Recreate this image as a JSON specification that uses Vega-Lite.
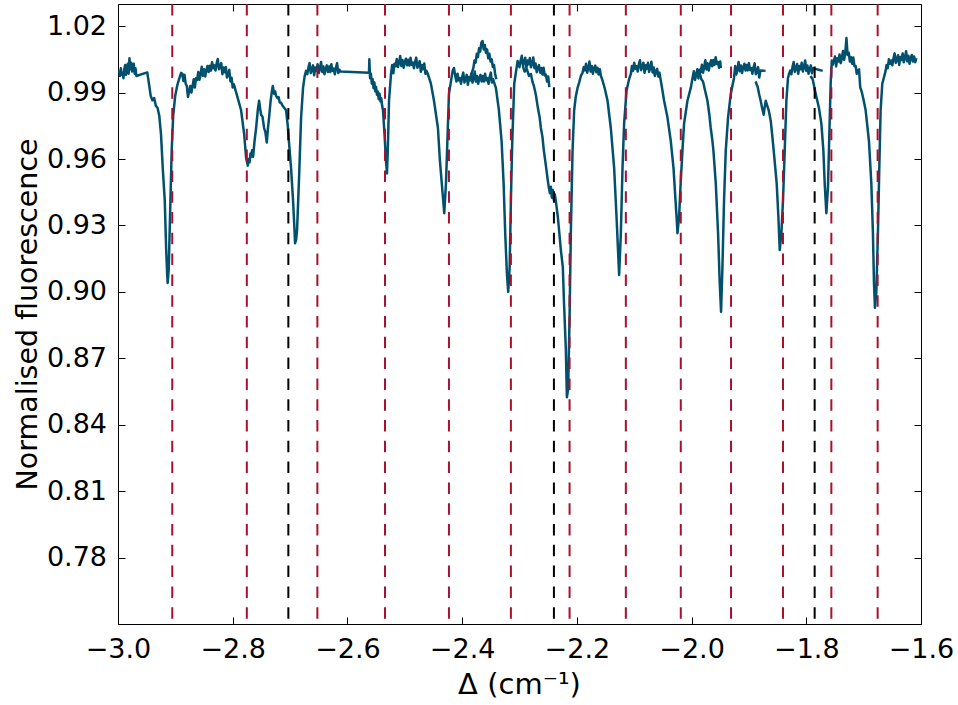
{
  "$schema": "https://vega.github.io/schema/vega-lite/v6.json",
  "width": 803,
  "height": 620,
  "autosize": {"type": "none"},
  "padding": {"left": 118, "top": 4, "right": 37, "bottom": 81},
  "background": "white",
  "config": {"view": {"stroke": "black", "strokeWidth": 1}, "font": "DejaVu Sans", "axis": {"grid": false}},
  "datasets": {
    "red": [{"x": -2.9054}, {"x": -2.7754}, {"x": -2.6524}, {"x": -2.5345}, {"x": -2.423}, {"x": -2.315}, {"x": -2.2127}, {"x": -2.1146}, {"x": -2.0188}, {"x": -1.9312}, {"x": -1.8406}, {"x": -1.7563}, {"x": -1.6756}],
    "black": [{"x": -2.703}, {"x": -2.24}, {"x": -1.7854}],
    "frame": [{"x": -3, "y": 0.75}, {"x": -1.6, "y": 1.03}],
    "spec": [
      {"x": -2.998, "y": 1.0, "s": "a"}, {"x": -2.9965, "y": 0.9975, "s": "a"}, {"x": -2.995, "y": 1.001, "s": "a"}, {"x": -2.9935, "y": 0.998, "s": "a"}, {"x": -2.992, "y": 0.999, "s": "a"}, {"x": -2.9905, "y": 0.9965, "s": "a"}, {"x": -2.989, "y": 1.0005, "s": "a"}, {"x": -2.9875, "y": 1.0025, "s": "a"}, {"x": -2.986, "y": 0.998, "s": "a"}, {"x": -2.9845, "y": 1.0, "s": "a"}, {"x": -2.983, "y": 1.003, "s": "a"}, {"x": -2.9815, "y": 0.9985, "s": "a"}, {"x": -2.98, "y": 1.0055, "s": "a"}, {"x": -2.9785, "y": 1.0005, "s": "a"}, {"x": -2.977, "y": 1.0035, "s": "a"}, {"x": -2.9755, "y": 0.9995, "s": "a"}, {"x": -2.974, "y": 1.0005, "s": "a"}, {"x": -2.9725, "y": 1.003, "s": "a"}, {"x": -2.971, "y": 0.9985, "s": "a"}, {"x": -2.9695, "y": 1.001, "s": "a"}, {"x": -2.968, "y": 0.9975, "s": "a"},
      {"x": -2.949, "y": 0.9991, "s": "a"}, {"x": -2.946, "y": 0.994, "s": "a"}, {"x": -2.943, "y": 0.9885, "s": "a"}, {"x": -2.94, "y": 0.9865, "s": "a"}, {"x": -2.937, "y": 0.9875, "s": "a"}, {"x": -2.934, "y": 0.984, "s": "a"}, {"x": -2.931, "y": 0.983, "s": "a"}, {"x": -2.928, "y": 0.9795, "s": "a"}, {"x": -2.925, "y": 0.971, "s": "a"}, {"x": -2.922, "y": 0.956, "s": "a"}, {"x": -2.9185, "y": 0.9413, "s": "a"}, {"x": -2.916, "y": 0.919, "s": "a"}, {"x": -2.9142, "y": 0.9076, "s": "a"}, {"x": -2.9134, "y": 0.904, "s": "a"}, {"x": -2.9116, "y": 0.91, "s": "a"}, {"x": -2.909, "y": 0.937, "s": "a"}, {"x": -2.9064, "y": 0.9638, "s": "a"}, {"x": -2.9038, "y": 0.9795, "s": "a"}, {"x": -2.9003, "y": 0.9885, "s": "a"}, {"x": -2.8969, "y": 0.993, "s": "a"}, {"x": -2.8934, "y": 0.9962, "s": "a"}, {"x": -2.8899, "y": 0.9989, "s": "a"},
      {"x": -2.888, "y": 0.9985, "s": "a"}, {"x": -2.886, "y": 0.9952, "s": "a"}, {"x": -2.884, "y": 0.998, "s": "a"}, {"x": -2.882, "y": 0.994, "s": "a"}, {"x": -2.88, "y": 0.993, "s": "a"}, {"x": -2.878, "y": 0.988, "s": "a"}, {"x": -2.876, "y": 0.9905, "s": "a"}, {"x": -2.874, "y": 0.993, "s": "a"}, {"x": -2.872, "y": 0.99, "s": "a"}, {"x": -2.87, "y": 0.993, "s": "a"}, {"x": -2.868, "y": 0.996, "s": "a"}, {"x": -2.866, "y": 0.9923, "s": "a"}, {"x": -2.864, "y": 0.9965, "s": "a"}, {"x": -2.862, "y": 0.9957, "s": "a"}, {"x": -2.86, "y": 0.9993, "s": "a"}, {"x": -2.858, "y": 0.9958, "s": "a"}, {"x": -2.856, "y": 0.9983, "s": "a"}, {"x": -2.854, "y": 1.0017, "s": "a"}, {"x": -2.852, "y": 0.9976, "s": "a"}, {"x": -2.85, "y": 1.0005, "s": "a"}, {"x": -2.848, "y": 0.9973, "s": "a"}, {"x": -2.846, "y": 1.0001, "s": "a"}, {"x": -2.844, "y": 1.002, "s": "a"}, {"x": -2.842, "y": 0.9993, "s": "a"}, {"x": -2.84, "y": 1.0021, "s": "a"}, {"x": -2.838, "y": 0.9999, "s": "a"}, {"x": -2.836, "y": 1.0037, "s": "a"}, {"x": -2.834, "y": 1.001, "s": "a"}, {"x": -2.832, "y": 1.0023, "s": "a"}, {"x": -2.83, "y": 1.0, "s": "a"}, {"x": -2.828, "y": 1.0032, "s": "a"}, {"x": -2.826, "y": 1.0052, "s": "a"}, {"x": -2.824, "y": 1.0005, "s": "a"}, {"x": -2.822, "y": 1.0017, "s": "a"}, {"x": -2.82, "y": 1.0033, "s": "a"}, {"x": -2.818, "y": 0.9983, "s": "a"}, {"x": -2.816, "y": 1.0013, "s": "a"}, {"x": -2.814, "y": 0.9992, "s": "a"}, {"x": -2.812, "y": 1.0015, "s": "a"}, {"x": -2.81, "y": 0.9968, "s": "a"}, {"x": -2.808, "y": 0.9981, "s": "a"}, {"x": -2.806, "y": 1.0003, "s": "a"}, {"x": -2.804, "y": 0.995, "s": "a"}, {"x": -2.802, "y": 0.9967, "s": "a"}, {"x": -2.8, "y": 0.9923, "s": "a"}, {"x": -2.798, "y": 0.9937, "s": "a"},
      {"x": -2.7923, "y": 0.9885, "s": "a"}, {"x": -2.7854, "y": 0.982, "s": "a"}, {"x": -2.7801, "y": 0.9714, "s": "a"}, {"x": -2.7767, "y": 0.9607, "s": "a"}, {"x": -2.7737, "y": 0.957, "s": "a"}, {"x": -2.772, "y": 0.96, "s": "a"}, {"x": -2.7706, "y": 0.9585, "s": "a"}, {"x": -2.769, "y": 0.9625, "s": "a"}, {"x": -2.7679, "y": 0.961, "s": "a"}, {"x": -2.7662, "y": 0.964, "s": "a"}, {"x": -2.7645, "y": 0.961, "s": "a"}, {"x": -2.762, "y": 0.968, "s": "a"}, {"x": -2.7592, "y": 0.974, "s": "a"}, {"x": -2.7563, "y": 0.982, "s": "a"}, {"x": -2.754, "y": 0.9863, "s": "a"}, {"x": -2.752, "y": 0.9825, "s": "a"}, {"x": -2.7505, "y": 0.98, "s": "a"}, {"x": -2.748, "y": 0.979, "s": "a"}, {"x": -2.7453, "y": 0.974, "s": "a"}, {"x": -2.743, "y": 0.972, "s": "a"}, {"x": -2.7406, "y": 0.9674, "s": "a"}, {"x": -2.7385, "y": 0.974, "s": "a"}, {"x": -2.7366, "y": 0.9787, "s": "a"}, {"x": -2.734, "y": 0.986, "s": "a"}, {"x": -2.732, "y": 0.99, "s": "a"}, {"x": -2.7301, "y": 0.993, "s": "a"}, {"x": -2.728, "y": 0.9895, "s": "a"}, {"x": -2.726, "y": 0.9905, "s": "a"}, {"x": -2.7244, "y": 0.9885, "s": "a"}, {"x": -2.722, "y": 0.9875, "s": "a"}, {"x": -2.72, "y": 0.988, "s": "a"}, {"x": -2.718, "y": 0.9855, "s": "a"}, {"x": -2.7157, "y": 0.9854, "s": "a"}, {"x": -2.713, "y": 0.984, "s": "a"}, {"x": -2.71, "y": 0.983, "s": "a"}, {"x": -2.707, "y": 0.982, "s": "a"}, {"x": -2.704, "y": 0.975, "s": "a"}, {"x": -2.7017, "y": 0.967, "s": "a"}, {"x": -2.6983, "y": 0.956, "s": "a"}, {"x": -2.6948, "y": 0.9413, "s": "a"}, {"x": -2.6925, "y": 0.9292, "s": "a"}, {"x": -2.6913, "y": 0.922, "s": "a"}, {"x": -2.6895, "y": 0.9235, "s": "a"}, {"x": -2.6878, "y": 0.9279, "s": "a"}, {"x": -2.6843, "y": 0.9517, "s": "a"}, {"x": -2.6808, "y": 0.9787, "s": "a"}, {"x": -2.6774, "y": 0.9921, "s": "a"}, {"x": -2.6745, "y": 0.9975, "s": "a"}, {"x": -2.6721, "y": 0.9998, "s": "a"},
      {"x": -2.67, "y": 0.9983, "s": "a"}, {"x": -2.668, "y": 1.0013, "s": "a"}, {"x": -2.666, "y": 1.0033, "s": "a"}, {"x": -2.664, "y": 0.9988, "s": "a"}, {"x": -2.662, "y": 1.0003, "s": "a"}, {"x": -2.66, "y": 1.0023, "s": "a"}, {"x": -2.658, "y": 0.9978, "s": "a"}, {"x": -2.656, "y": 1.0013, "s": "a"}, {"x": -2.654, "y": 0.9998, "s": "a"}, {"x": -2.652, "y": 1.0028, "s": "a"}, {"x": -2.65, "y": 0.9988, "s": "a"}, {"x": -2.648, "y": 1.0008, "s": "a"}, {"x": -2.646, "y": 1.0038, "s": "a"}, {"x": -2.644, "y": 0.9993, "s": "a"}, {"x": -2.642, "y": 1.0018, "s": "a"}, {"x": -2.64, "y": 0.9983, "s": "a"}, {"x": -2.638, "y": 1.0008, "s": "a"}, {"x": -2.636, "y": 1.0023, "s": "a"}, {"x": -2.634, "y": 0.9993, "s": "a"}, {"x": -2.632, "y": 1.0018, "s": "a"}, {"x": -2.63, "y": 0.9993, "s": "a"}, {"x": -2.628, "y": 1.0028, "s": "a"}, {"x": -2.626, "y": 0.9998, "s": "a"}, {"x": -2.624, "y": 1.0008, "s": "a"}, {"x": -2.622, "y": 0.9983, "s": "a"}, {"x": -2.62, "y": 1.0013, "s": "a"}, {"x": -2.618, "y": 1.0033, "s": "a"}, {"x": -2.616, "y": 0.9988, "s": "a"}, {"x": -2.614, "y": 1.0003, "s": "a"}, {"x": -2.612, "y": 0.9995, "s": "a"},
      {"x": -2.5624, "y": 0.999, "s": "a"}, {"x": -2.5618, "y": 1.005, "s": "a"}, {"x": -2.5605, "y": 0.9965, "s": "a"}, {"x": -2.559, "y": 0.9985, "s": "a"}, {"x": -2.5575, "y": 0.994, "s": "a"}, {"x": -2.556, "y": 0.996, "s": "a"}, {"x": -2.5545, "y": 0.992, "s": "a"}, {"x": -2.553, "y": 0.9945, "s": "a"}, {"x": -2.5515, "y": 0.9905, "s": "a"}, {"x": -2.55, "y": 0.9925, "s": "a"}, {"x": -2.5485, "y": 0.989, "s": "a"}, {"x": -2.547, "y": 0.9905, "s": "a"}, {"x": -2.5455, "y": 0.987, "s": "a"}, {"x": -2.544, "y": 0.9895, "s": "a"}, {"x": -2.5425, "y": 0.986, "s": "a"}, {"x": -2.541, "y": 0.9875, "s": "a"}, {"x": -2.5395, "y": 0.984, "s": "a"}, {"x": -2.538, "y": 0.982, "s": "a"}, {"x": -2.5354, "y": 0.9714, "s": "a"}, {"x": -2.5327, "y": 0.959, "s": "a"}, {"x": -2.531, "y": 0.9535, "s": "a"}, {"x": -2.5293, "y": 0.967, "s": "a"}, {"x": -2.5275, "y": 0.9863, "s": "a"}, {"x": -2.524, "y": 0.9984, "s": "a"},
      {"x": -2.522, "y": 1.0025, "s": "a"}, {"x": -2.52, "y": 0.9987, "s": "a"}, {"x": -2.518, "y": 1.003, "s": "a"}, {"x": -2.516, "y": 1.0019, "s": "a"}, {"x": -2.514, "y": 1.0052, "s": "a"}, {"x": -2.512, "y": 1.0015, "s": "a"}, {"x": -2.51, "y": 1.0035, "s": "a"}, {"x": -2.508, "y": 1.0065, "s": "a"}, {"x": -2.506, "y": 1.002, "s": "a"}, {"x": -2.504, "y": 1.0047, "s": "a"}, {"x": -2.502, "y": 1.0012, "s": "a"}, {"x": -2.5, "y": 1.0038, "s": "a"}, {"x": -2.498, "y": 1.0053, "s": "a"}, {"x": -2.496, "y": 1.0023, "s": "a"}, {"x": -2.494, "y": 1.0048, "s": "a"}, {"x": -2.492, "y": 1.0022, "s": "a"}, {"x": -2.49, "y": 1.0057, "s": "a"}, {"x": -2.488, "y": 1.0026, "s": "a"}, {"x": -2.486, "y": 1.0035, "s": "a"}, {"x": -2.484, "y": 1.001, "s": "a"}, {"x": -2.482, "y": 1.0039, "s": "a"}, {"x": -2.48, "y": 1.0058, "s": "a"}, {"x": -2.478, "y": 1.0012, "s": "a"}, {"x": -2.476, "y": 1.0025, "s": "a"}, {"x": -2.474, "y": 1.0042, "s": "a"}, {"x": -2.472, "y": 0.9994, "s": "a"}, {"x": -2.47, "y": 1.0025, "s": "a"}, {"x": -2.468, "y": 1.0006, "s": "a"}, {"x": -2.466, "y": 1.0031, "s": "a"}, {"x": -2.464, "y": 0.9985, "s": "a"}, {"x": -2.462, "y": 0.9998, "s": "a"}, {"x": -2.46, "y": 0.9985, "s": "a"},
      {"x": -2.4544, "y": 0.994, "s": "a"}, {"x": -2.4491, "y": 0.9863, "s": "a"}, {"x": -2.4422, "y": 0.974, "s": "a"}, {"x": -2.4387, "y": 0.959, "s": "a"}, {"x": -2.434, "y": 0.9443, "s": "a"}, {"x": -2.4312, "y": 0.9355, "s": "a"}, {"x": -2.4282, "y": 0.949, "s": "a"}, {"x": -2.4253, "y": 0.9714, "s": "a"}, {"x": -2.423, "y": 0.9894, "s": "a"}, {"x": -2.4166, "y": 0.9998, "s": "a"}, {"x": -2.4143, "y": 1.0011, "s": "a"},
      {"x": -2.412, "y": 0.9975, "s": "a"}, {"x": -2.41, "y": 0.995, "s": "a"}, {"x": -2.408, "y": 0.9985, "s": "a"}, {"x": -2.406, "y": 0.9955, "s": "a"}, {"x": -2.404, "y": 0.9965, "s": "a"}, {"x": -2.402, "y": 0.994, "s": "a"}, {"x": -2.4, "y": 0.997, "s": "a"}, {"x": -2.398, "y": 0.999, "s": "a"}, {"x": -2.396, "y": 0.9945, "s": "a"}, {"x": -2.394, "y": 0.996, "s": "a"}, {"x": -2.392, "y": 0.998, "s": "a"}, {"x": -2.39, "y": 0.9935, "s": "a"}, {"x": -2.388, "y": 0.997, "s": "a"}, {"x": -2.386, "y": 0.9955, "s": "a"}, {"x": -2.384, "y": 0.9985, "s": "a"}, {"x": -2.382, "y": 0.9945, "s": "a"}, {"x": -2.38, "y": 0.9965, "s": "a"}, {"x": -2.378, "y": 0.9995, "s": "a"}, {"x": -2.376, "y": 0.995, "s": "a"}, {"x": -2.374, "y": 0.9975, "s": "a"}, {"x": -2.372, "y": 0.994, "s": "a"}, {"x": -2.37, "y": 0.9965, "s": "a"}, {"x": -2.368, "y": 0.998, "s": "a"}, {"x": -2.366, "y": 0.995, "s": "a"}, {"x": -2.364, "y": 0.9975, "s": "a"}, {"x": -2.362, "y": 0.995, "s": "a"}, {"x": -2.36, "y": 0.9985, "s": "a"}, {"x": -2.358, "y": 0.9955, "s": "a"}, {"x": -2.356, "y": 0.9965, "s": "a"}, {"x": -2.354, "y": 0.994, "s": "a"}, {"x": -2.352, "y": 0.997, "s": "a"}, {"x": -2.35, "y": 0.999, "s": "a"}, {"x": -2.348, "y": 0.9945, "s": "a"}, {"x": -2.346, "y": 0.996, "s": "a"},
      {"x": -2.3411, "y": 0.992, "s": "a"}, {"x": -2.3359, "y": 0.982, "s": "a"}, {"x": -2.3312, "y": 0.968, "s": "a"}, {"x": -2.3277, "y": 0.949, "s": "a"}, {"x": -2.3249, "y": 0.9265, "s": "a"}, {"x": -2.322, "y": 0.9085, "s": "a"}, {"x": -2.3197, "y": 0.9, "s": "a"}, {"x": -2.3172, "y": 0.911, "s": "a"}, {"x": -2.315, "y": 0.9413, "s": "a"}, {"x": -2.3127, "y": 0.967, "s": "a"}, {"x": -2.3092, "y": 0.994, "s": "a"}, {"x": -2.3033, "y": 1.0043, "s": "a"},
      {"x": -2.3, "y": 1.0015, "s": "a"}, {"x": -2.298, "y": 1.0045, "s": "a"}, {"x": -2.296, "y": 1.0066, "s": "a"}, {"x": -2.294, "y": 1.0022, "s": "a"}, {"x": -2.292, "y": 1.0037, "s": "a"}, {"x": -2.29, "y": 1.0057, "s": "a"}, {"x": -2.288, "y": 1.0011, "s": "a"}, {"x": -2.286, "y": 1.0045, "s": "a"}, {"x": -2.284, "y": 1.0028, "s": "a"}, {"x": -2.282, "y": 1.0056, "s": "a"}, {"x": -2.28, "y": 1.0014, "s": "a"}, {"x": -2.278, "y": 1.0031, "s": "a"}, {"x": -2.276, "y": 1.0058, "s": "a"}, {"x": -2.274, "y": 1.001, "s": "a"}, {"x": -2.272, "y": 1.0031, "s": "a"}, {"x": -2.27, "y": 0.9992, "s": "a"}, {"x": -2.268, "y": 1.0013, "s": "a"}, {"x": -2.266, "y": 1.0024, "s": "a"}, {"x": -2.264, "y": 0.999, "s": "a"}, {"x": -2.262, "y": 1.0011, "s": "a"}, {"x": -2.26, "y": 0.9982, "s": "a"}, {"x": -2.258, "y": 1.0012, "s": "a"}, {"x": -2.256, "y": 0.9977, "s": "a"}, {"x": -2.254, "y": 0.9981, "s": "a"}, {"x": -2.252, "y": 0.995, "s": "a"}, {"x": -2.25, "y": 0.9973, "s": "a"}, {"x": -2.248, "y": 0.9925, "s": "a"},
      {"x": -2.3845, "y": 0.9975, "s": "b"}, {"x": -2.3825, "y": 0.9995, "s": "b"}, {"x": -2.3805, "y": 1.001, "s": "b"}, {"x": -2.3785, "y": 1.0045, "s": "b"}, {"x": -2.3765, "y": 1.0035, "s": "b"}, {"x": -2.3745, "y": 1.0075, "s": "b"}, {"x": -2.3725, "y": 1.006, "s": "b"}, {"x": -2.3705, "y": 1.01, "s": "b"}, {"x": -2.3685, "y": 1.0085, "s": "b"}, {"x": -2.3665, "y": 1.0125, "s": "b"}, {"x": -2.3645, "y": 1.0133, "s": "b"}, {"x": -2.3625, "y": 1.0095, "s": "b"}, {"x": -2.3605, "y": 1.0115, "s": "b"}, {"x": -2.3585, "y": 1.008, "s": "b"}, {"x": -2.3565, "y": 1.0095, "s": "b"}, {"x": -2.3545, "y": 1.0055, "s": "b"}, {"x": -2.3525, "y": 1.0075, "s": "b"}, {"x": -2.3505, "y": 1.004, "s": "b"}, {"x": -2.3485, "y": 1.005, "s": "b"}, {"x": -2.3465, "y": 1.0015, "s": "b"}, {"x": -2.3445, "y": 1.0025, "s": "b"}, {"x": -2.3425, "y": 0.9985, "s": "b"}, {"x": -2.3405, "y": 0.996, "s": "b"},
      {"x": -2.2941, "y": 1.002, "s": "c"}, {"x": -2.291, "y": 0.9995, "s": "c"}, {"x": -2.287, "y": 1.0005, "s": "c"}, {"x": -2.2835, "y": 0.9975, "s": "c"}, {"x": -2.2801, "y": 0.9984, "s": "c"}, {"x": -2.2775, "y": 0.995, "s": "c"}, {"x": -2.2749, "y": 0.993, "s": "c"}, {"x": -2.2715, "y": 0.989, "s": "c"}, {"x": -2.2679, "y": 0.983, "s": "c"}, {"x": -2.265, "y": 0.979, "s": "c"}, {"x": -2.2627, "y": 0.974, "s": "c"}, {"x": -2.26, "y": 0.97, "s": "c"}, {"x": -2.2575, "y": 0.9638, "s": "c"}, {"x": -2.254, "y": 0.957, "s": "c"}, {"x": -2.2505, "y": 0.95, "s": "c"}, {"x": -2.2488, "y": 0.947, "s": "c"}, {"x": -2.247, "y": 0.9445, "s": "c"}, {"x": -2.2453, "y": 0.9475, "s": "c"}, {"x": -2.2436, "y": 0.9425, "s": "c"}, {"x": -2.2419, "y": 0.946, "s": "c"}, {"x": -2.2401, "y": 0.9415, "s": "c"}, {"x": -2.2384, "y": 0.944, "s": "c"}, {"x": -2.2366, "y": 0.941, "s": "c"}, {"x": -2.2331, "y": 0.9337, "s": "c"}, {"x": -2.2279, "y": 0.9189, "s": "c"}, {"x": -2.2244, "y": 0.911, "s": "c"}, {"x": -2.2226, "y": 0.8964, "s": "c"}, {"x": -2.2192, "y": 0.874, "s": "c"}, {"x": -2.2174, "y": 0.8524, "s": "c"}, {"x": -2.2152, "y": 0.856, "s": "c"}, {"x": -2.2127, "y": 0.8888, "s": "c"}, {"x": -2.2105, "y": 0.9265, "s": "c"}, {"x": -2.2075, "y": 0.9638, "s": "c"}, {"x": -2.2047, "y": 0.982, "s": "c"}, {"x": -2.202, "y": 0.988, "s": "c"}, {"x": -2.1988, "y": 0.9921, "s": "c"}, {"x": -2.196, "y": 0.9945, "s": "c"}, {"x": -2.193, "y": 0.9975, "s": "c"}, {"x": -2.1901, "y": 0.9989, "s": "c"},
      {"x": -2.188, "y": 1.0015, "s": "c"}, {"x": -2.186, "y": 1.0, "s": "c"}, {"x": -2.184, "y": 1.003, "s": "c"}, {"x": -2.182, "y": 0.999, "s": "c"}, {"x": -2.18, "y": 1.001, "s": "c"}, {"x": -2.178, "y": 1.004, "s": "c"}, {"x": -2.176, "y": 0.9995, "s": "c"}, {"x": -2.174, "y": 1.002, "s": "c"}, {"x": -2.172, "y": 0.9985, "s": "c"}, {"x": -2.17, "y": 1.001, "s": "c"}, {"x": -2.168, "y": 1.0022, "s": "c"}, {"x": -2.166, "y": 0.9992, "s": "c"}, {"x": -2.164, "y": 1.0012, "s": "c"}, {"x": -2.162, "y": 0.9982, "s": "c"}, {"x": -2.16, "y": 1.0005, "s": "c"}, {"x": -2.158, "y": 0.9975, "s": "c"},
      {"x": -2.1553, "y": 0.9955, "s": "c"}, {"x": -2.151, "y": 0.9915, "s": "c"}, {"x": -2.1465, "y": 0.9863, "s": "c"}, {"x": -2.1408, "y": 0.974, "s": "c"}, {"x": -2.135, "y": 0.956, "s": "c"}, {"x": -2.1308, "y": 0.9337, "s": "c"}, {"x": -2.128, "y": 0.9175, "s": "c"}, {"x": -2.1263, "y": 0.9076, "s": "c"}, {"x": -2.1233, "y": 0.9265, "s": "c"}, {"x": -2.1204, "y": 0.956, "s": "c"}, {"x": -2.1176, "y": 0.976, "s": "c"}, {"x": -2.1134, "y": 0.9908, "s": "c"}, {"x": -2.109, "y": 0.996, "s": "c"}, {"x": -2.1059, "y": 0.9984, "s": "c"},
      {"x": -2.104, "y": 1.002, "s": "c"}, {"x": -2.102, "y": 0.9998, "s": "c"}, {"x": -2.1, "y": 1.0035, "s": "c"}, {"x": -2.098, "y": 1.0007, "s": "c"}, {"x": -2.096, "y": 1.0019, "s": "c"}, {"x": -2.094, "y": 0.9995, "s": "c"}, {"x": -2.092, "y": 1.0026, "s": "c"}, {"x": -2.09, "y": 1.0046, "s": "c"}, {"x": -2.088, "y": 1.0001, "s": "c"}, {"x": -2.086, "y": 1.0016, "s": "c"}, {"x": -2.084, "y": 1.0035, "s": "c"}, {"x": -2.082, "y": 0.9989, "s": "c"}, {"x": -2.08, "y": 1.0023, "s": "c"}, {"x": -2.078, "y": 1.0007, "s": "c"}, {"x": -2.076, "y": 1.0035, "s": "c"}, {"x": -2.074, "y": 0.9993, "s": "c"}, {"x": -2.072, "y": 1.0011, "s": "c"}, {"x": -2.07, "y": 1.0039, "s": "c"}, {"x": -2.068, "y": 0.9991, "s": "c"}, {"x": -2.066, "y": 1.0013, "s": "c"}, {"x": -2.064, "y": 0.9975, "s": "c"}, {"x": -2.062, "y": 0.9996, "s": "c"}, {"x": -2.06, "y": 1.0007, "s": "c"}, {"x": -2.058, "y": 0.9972, "s": "c"}, {"x": -2.056, "y": 0.999, "s": "c"},
      {"x": -2.0515, "y": 0.9921, "s": "c"}, {"x": -2.0479, "y": 0.9863, "s": "c"}, {"x": -2.042, "y": 0.9787, "s": "c"}, {"x": -2.0362, "y": 0.968, "s": "c"}, {"x": -2.0315, "y": 0.956, "s": "c"}, {"x": -2.028, "y": 0.9413, "s": "c"}, {"x": -2.0258, "y": 0.9324, "s": "c"}, {"x": -2.0246, "y": 0.9265, "s": "c"}, {"x": -2.0218, "y": 0.9337, "s": "c"}, {"x": -2.0188, "y": 0.9503, "s": "c"}, {"x": -2.0159, "y": 0.9638, "s": "c"}, {"x": -2.0131, "y": 0.976, "s": "c"}, {"x": -2.0072, "y": 0.9863, "s": "c"}, {"x": -2.0014, "y": 0.9921, "s": "c"},
      {"x": -1.998, "y": 0.997, "s": "c"}, {"x": -1.996, "y": 0.9996, "s": "c"}, {"x": -1.994, "y": 0.9957, "s": "c"}, {"x": -1.992, "y": 0.9978, "s": "c"}, {"x": -1.99, "y": 1.0005, "s": "c"}, {"x": -1.988, "y": 0.9964, "s": "c"}, {"x": -1.986, "y": 1.0003, "s": "c"}, {"x": -1.984, "y": 0.9992, "s": "c"}, {"x": -1.982, "y": 1.0026, "s": "c"}, {"x": -1.98, "y": 0.999, "s": "c"}, {"x": -1.978, "y": 1.0013, "s": "c"}, {"x": -1.976, "y": 1.0046, "s": "c"}, {"x": -1.974, "y": 1.0004, "s": "c"}, {"x": -1.972, "y": 1.0032, "s": "c"}, {"x": -1.97, "y": 1.0, "s": "c"}, {"x": -1.968, "y": 1.0028, "s": "c"}, {"x": -1.966, "y": 1.0046, "s": "c"}, {"x": -1.964, "y": 1.0019, "s": "c"}, {"x": -1.962, "y": 1.0047, "s": "c"}, {"x": -1.96, "y": 1.0025, "s": "c"}, {"x": -1.958, "y": 1.006, "s": "c"}, {"x": -1.956, "y": 1.0029, "s": "c"}, {"x": -1.954, "y": 1.0038, "s": "c"}, {"x": -1.952, "y": 1.0012, "s": "c"}, {"x": -1.95, "y": 1.004, "s": "c"}, {"x": -1.949, "y": 1.001, "s": "c"},
      {"x": -1.986, "y": 0.999, "s": "d"}, {"x": -1.983, "y": 0.996, "s": "d"}, {"x": -1.98, "y": 0.995, "s": "d"}, {"x": -1.977, "y": 0.9915, "s": "d"}, {"x": -1.9723, "y": 0.9863, "s": "d"}, {"x": -1.969, "y": 0.98, "s": "d"}, {"x": -1.9666, "y": 0.974, "s": "d"}, {"x": -1.964, "y": 0.969, "s": "d"}, {"x": -1.9619, "y": 0.9638, "s": "d"}, {"x": -1.9578, "y": 0.949, "s": "d"}, {"x": -1.9538, "y": 0.9265, "s": "d"}, {"x": -1.9509, "y": 0.904, "s": "d"}, {"x": -1.9486, "y": 0.891, "s": "d"}, {"x": -1.9462, "y": 0.911, "s": "d"}, {"x": -1.9434, "y": 0.9413, "s": "d"}, {"x": -1.9404, "y": 0.9638, "s": "d"}, {"x": -1.9364, "y": 0.9787, "s": "d"}, {"x": -1.9317, "y": 0.9894, "s": "d"}, {"x": -1.926, "y": 0.9966, "s": "d"},
      {"x": -1.924, "y": 1.002, "s": "d"}, {"x": -1.922, "y": 0.9982, "s": "d"}, {"x": -1.92, "y": 1.0005, "s": "d"}, {"x": -1.918, "y": 1.0038, "s": "d"}, {"x": -1.916, "y": 0.9996, "s": "d"}, {"x": -1.914, "y": 1.0022, "s": "d"}, {"x": -1.912, "y": 0.9988, "s": "d"}, {"x": -1.91, "y": 1.0014, "s": "d"}, {"x": -1.908, "y": 1.003, "s": "d"}, {"x": -1.906, "y": 1.0, "s": "d"}, {"x": -1.904, "y": 1.0025, "s": "d"}, {"x": -1.902, "y": 1.0, "s": "d"}, {"x": -1.9, "y": 1.0033, "s": "d"}, {"x": -1.898, "y": 1.0002, "s": "d"}, {"x": -1.896, "y": 1.0011, "s": "d"}, {"x": -1.894, "y": 0.9985, "s": "d"}, {"x": -1.892, "y": 1.0014, "s": "d"}, {"x": -1.89, "y": 1.0032, "s": "d"}, {"x": -1.888, "y": 0.9983, "s": "d"}, {"x": -1.886, "y": 0.9996, "s": "d"}, {"x": -1.884, "y": 1.0015, "s": "d"}, {"x": -1.882, "y": 0.9968, "s": "d"}, {"x": -1.88, "y": 1.0, "s": "d"}, {"x": -1.871, "y": 0.9998, "s": "d"},
      {"x": -1.8885, "y": 0.995, "s": "e"}, {"x": -1.8847, "y": 0.9925, "s": "e"}, {"x": -1.882, "y": 0.989, "s": "e"}, {"x": -1.8795, "y": 0.9863, "s": "e"}, {"x": -1.877, "y": 0.983, "s": "e"}, {"x": -1.8742, "y": 0.98, "s": "e"}, {"x": -1.8725, "y": 0.9835, "s": "e"}, {"x": -1.8707, "y": 0.9863, "s": "e"}, {"x": -1.868, "y": 0.984, "s": "e"}, {"x": -1.8655, "y": 0.982, "s": "e"}, {"x": -1.862, "y": 0.9773, "s": "e"}, {"x": -1.8595, "y": 0.971, "s": "e"}, {"x": -1.8568, "y": 0.9638, "s": "e"}, {"x": -1.8516, "y": 0.949, "s": "e"}, {"x": -1.8486, "y": 0.9337, "s": "e"}, {"x": -1.8463, "y": 0.9189, "s": "e"}, {"x": -1.8434, "y": 0.9265, "s": "e"}, {"x": -1.8406, "y": 0.9413, "s": "e"}, {"x": -1.8376, "y": 0.9638, "s": "e"}, {"x": -1.8347, "y": 0.9863, "s": "e"}, {"x": -1.8319, "y": 0.9966, "s": "e"},
      {"x": -1.83, "y": 0.9985, "s": "e"}, {"x": -1.828, "y": 0.9999, "s": "e"}, {"x": -1.826, "y": 0.9983, "s": "e"}, {"x": -1.824, "y": 1.0016, "s": "e"}, {"x": -1.822, "y": 1.0038, "s": "e"}, {"x": -1.82, "y": 0.9993, "s": "e"}, {"x": -1.818, "y": 1.0009, "s": "e"}, {"x": -1.816, "y": 1.0029, "s": "e"}, {"x": -1.814, "y": 0.9985, "s": "e"}, {"x": -1.812, "y": 1.002, "s": "e"}, {"x": -1.81, "y": 1.0005, "s": "e"}, {"x": -1.808, "y": 1.0035, "s": "e"}, {"x": -1.806, "y": 0.9995, "s": "e"}, {"x": -1.804, "y": 1.0015, "s": "e"}, {"x": -1.802, "y": 1.0045, "s": "e"}, {"x": -1.8, "y": 0.9998, "s": "e"}, {"x": -1.798, "y": 1.0022, "s": "e"}, {"x": -1.796, "y": 0.9985, "s": "e"}, {"x": -1.794, "y": 1.0009, "s": "e"}, {"x": -1.792, "y": 1.0023, "s": "e"}, {"x": -1.79, "y": 0.9987, "s": "e"}, {"x": -1.788, "y": 1.001, "s": "e"}, {"x": -1.7714, "y": 0.9998, "s": "e"},
      {"x": -1.7927, "y": 0.9975, "s": "f"}, {"x": -1.7889, "y": 0.996, "s": "f"}, {"x": -1.786, "y": 0.9925, "s": "f"}, {"x": -1.7836, "y": 0.9894, "s": "f"}, {"x": -1.7805, "y": 0.986, "s": "f"}, {"x": -1.7779, "y": 0.983, "s": "f"}, {"x": -1.7737, "y": 0.976, "s": "f"}, {"x": -1.7702, "y": 0.9638, "s": "f"}, {"x": -1.7679, "y": 0.949, "s": "f"}, {"x": -1.765, "y": 0.9355, "s": "f"}, {"x": -1.7622, "y": 0.9472, "s": "f"}, {"x": -1.7598, "y": 0.9714, "s": "f"}, {"x": -1.7575, "y": 0.994, "s": "f"}, {"x": -1.7555, "y": 1.0045, "s": "f"},
      {"x": -1.754, "y": 1.0025, "s": "f"}, {"x": -1.752, "y": 1.0042, "s": "f"}, {"x": -1.75, "y": 1.0063, "s": "f"}, {"x": -1.748, "y": 1.0018, "s": "f"}, {"x": -1.746, "y": 1.0055, "s": "f"}, {"x": -1.744, "y": 1.004, "s": "f"}, {"x": -1.742, "y": 1.0072, "s": "f"}, {"x": -1.74, "y": 1.0033, "s": "f"}, {"x": -1.738, "y": 1.0055, "s": "f"}, {"x": -1.736, "y": 1.0088, "s": "f"}, {"x": -1.734, "y": 1.0048, "s": "f"}, {"x": -1.732, "y": 1.008, "s": "f"}, {"x": -1.73, "y": 1.0146, "s": "f"}, {"x": -1.728, "y": 1.007, "s": "f"}, {"x": -1.726, "y": 1.008, "s": "f"}, {"x": -1.724, "y": 1.004, "s": "f"}, {"x": -1.722, "y": 1.006, "s": "f"}, {"x": -1.72, "y": 1.003, "s": "f"}, {"x": -1.718, "y": 1.0058, "s": "f"}, {"x": -1.716, "y": 1.002, "s": "f"}, {"x": -1.714, "y": 1.002, "s": "f"}, {"x": -1.712, "y": 0.9985, "s": "f"}, {"x": -1.71, "y": 1.0, "s": "f"}, {"x": -1.708, "y": 1.0005, "s": "f"}, {"x": -1.706, "y": 0.9925, "s": "f"},
      {"x": -1.703, "y": 0.99, "s": "f"}, {"x": -1.7, "y": 0.9865, "s": "f"}, {"x": -1.6965, "y": 0.982, "s": "f"}, {"x": -1.6907, "y": 0.968, "s": "f"}, {"x": -1.6866, "y": 0.949, "s": "f"}, {"x": -1.6838, "y": 0.9265, "s": "f"}, {"x": -1.682, "y": 0.904, "s": "f"}, {"x": -1.6803, "y": 0.8928, "s": "f"}, {"x": -1.6779, "y": 0.8996, "s": "f"}, {"x": -1.6751, "y": 0.9265, "s": "f"}, {"x": -1.6727, "y": 0.956, "s": "f"}, {"x": -1.6704, "y": 0.982, "s": "f"}, {"x": -1.6675, "y": 0.994, "s": "f"}, {"x": -1.6617, "y": 0.9998, "s": "f"},
      {"x": -1.66, "y": 1.0025, "s": "f"}, {"x": -1.658, "y": 1.001, "s": "f"}, {"x": -1.656, "y": 1.005, "s": "f"}, {"x": -1.654, "y": 1.003, "s": "f"}, {"x": -1.652, "y": 1.0045, "s": "f"}, {"x": -1.65, "y": 1.0023, "s": "f"}, {"x": -1.648, "y": 1.0055, "s": "f"}, {"x": -1.646, "y": 1.0077, "s": "f"}, {"x": -1.644, "y": 1.0034, "s": "f"}, {"x": -1.642, "y": 1.0049, "s": "f"}, {"x": -1.64, "y": 1.0069, "s": "f"}, {"x": -1.638, "y": 1.0025, "s": "f"}, {"x": -1.636, "y": 1.0061, "s": "f"}, {"x": -1.634, "y": 1.0047, "s": "f"}, {"x": -1.632, "y": 1.0077, "s": "f"}, {"x": -1.63, "y": 1.0037, "s": "f"}, {"x": -1.628, "y": 1.0057, "s": "f"}, {"x": -1.626, "y": 1.0087, "s": "f"}, {"x": -1.624, "y": 1.0041, "s": "f"}, {"x": -1.622, "y": 1.0066, "s": "f"}, {"x": -1.62, "y": 1.003, "s": "f"}, {"x": -1.618, "y": 1.0055, "s": "f"}, {"x": -1.616, "y": 1.007, "s": "f"}, {"x": -1.614, "y": 1.004, "s": "f"}, {"x": -1.612, "y": 1.0063, "s": "f"}, {"x": -1.61, "y": 1.0037, "s": "f"}, {"x": -1.608, "y": 1.0055, "s": "f"}
    ]
  },
  "layer": [
    {
      "data": {"name": "spec"},
      "mark": {"type": "line", "color": "#00506e", "strokeWidth": 2.5, "strokeJoin": "round"},
      "encoding": {
        "x": {"field": "x", "type": "quantitative", "scale": {"domain": [-3, -1.6], "nice": false, "zero": false},
          "axis": {"orient": "bottom", "values": [-3, -2.8, -2.6, -2.4, -2.2, -2, -1.8, -1.6], "labelExpr": "replace(format(datum.value, '.1f'), '-', '\u2212')", "tickSize": -7, "tickColor": "black", "tickWidth": 1, "domain": false, "labelFont": "DejaVu Sans", "labelFontSize": 27, "labelColor": "black", "labelPadding": 19, "labelFlush": false, "labelOverlap": false, "labelBound": false, "title": "Δ (cm⁻¹)", "titleFont": "DejaVu Sans", "titleFontSize": 29, "titleFontWeight": "normal", "titleColor": "black", "titleX": 401, "titleY": 60, "titleBaseline": "middle", "titleAlign": "center"}},
        "y": {"field": "y", "type": "quantitative", "scale": {"domain": [0.75, 1.03], "nice": false, "zero": false},
          "axis": {"orient": "left", "values": [0.78, 0.81, 0.84, 0.87, 0.9, 0.93, 0.96, 0.99, 1.02], "labelExpr": "format(datum.value, '.2f')", "tickSize": -7, "tickColor": "black", "tickWidth": 1, "domain": false, "labelFont": "DejaVu Sans", "labelFontSize": 27, "labelColor": "black", "labelPadding": 18.5, "labelFlush": false, "labelOverlap": false, "labelBound": false, "title": "Normalised fluorescence", "titleFont": "DejaVu Sans", "titleFontSize": 28.5, "titleFontWeight": "normal", "titleColor": "black", "titleX": -91, "titleY": 310, "titleAngle": -90, "titleBaseline": "middle", "titleAlign": "center"}},
        "detail": {"field": "s"}
      }
    },
    {
      "data": {"name": "red"},
      "mark": {"type": "rule", "color": "#a8102e", "strokeWidth": 2, "strokeDash": [11.5, 9.3]},
      "encoding": {"x": {"field": "x", "type": "quantitative", "axis": null}}
    },
    {
      "data": {"name": "black"},
      "mark": {"type": "rule", "color": "black", "strokeWidth": 2, "strokeDash": [11.5, 9.3]},
      "encoding": {"x": {"field": "x", "type": "quantitative", "axis": null}}
    },
    {
      "data": {"name": "frame"},
      "mark": {"type": "point", "opacity": 0},
      "encoding": {
        "x": {"field": "x", "type": "quantitative", "axis": {"orient": "top", "values": [-3, -2.8, -2.6, -2.4, -2.2, -2, -1.8, -1.6], "labels": false, "title": null, "tickSize": -7, "tickColor": "black", "tickWidth": 1, "domain": false}},
        "y": {"field": "y", "type": "quantitative", "axis": {"orient": "right", "values": [0.78, 0.81, 0.84, 0.87, 0.9, 0.93, 0.96, 0.99, 1.02], "labels": false, "title": null, "tickSize": -7, "tickColor": "black", "tickWidth": 1, "domain": false}}
      }
    }
  ],
  "resolve": {"axis": {"x": "independent", "y": "independent"}}
}
